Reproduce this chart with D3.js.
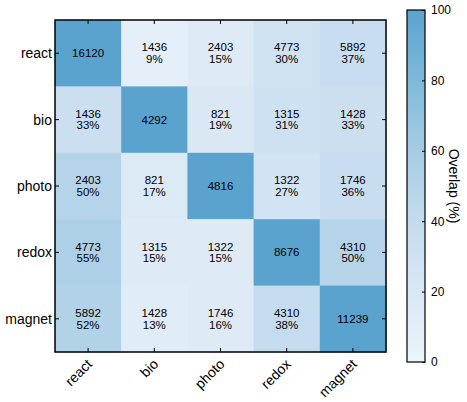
<!DOCTYPE html>
<html>
<head>
<meta charset="utf-8">
<script src="https://cdn.jsdelivr.net/npm/d3@7"></script>
<style>
  body { margin: 0; background: #fff; }
  svg text { font-family: "Liberation Sans", Arial, sans-serif; fill: #000; }
</style>
</head>
<body>
<div id="chart"></div>
<script>
// categories (rows top to bottom, columns left to right)
const categories = ["react", "bio", "photo", "redox", "magnet"];

// overlap counts, one row per category
const rowReact  = [16120, 1436, 2403, 4773, 5892];
const rowBio    = [1436, 4292, 821, 1315, 1428];
const rowPhoto  = [2403, 821, 4816, 1322, 1746];
const rowRedox  = [4773, 1315, 1322, 8676, 4310];
const rowMagnet = [5892, 1428, 1746, 4310, 11239];

const colorbarTicks = [0, 20, 40, 60, 80, 100];

const rows = [rowReact, rowBio, rowPhoto, rowRedox, rowMagnet];

// flatten into cells, percent is relative to the row's diagonal
let cells = [];
rows.forEach((r, i) => {
    r.forEach((v, j) => {
        cells.push({row: categories[i], col: categories[j], value: v,
                    pct: 100 * v / r[i], diag: i === j});
    });
});

const width = 467, height = 402;
const plot = {left: 55, top: 20, right: 386, bottom: 352};

const svg = d3.select("#chart").append("svg")
    .attr("width", width)
    .attr("height", height);

const x = d3.scaleBand().domain(categories).range([plot.left, plot.right]);
const y = d3.scaleBand().domain(categories).range([plot.top, plot.bottom]);

const color = d3.scaleSequential(t => d3.interpolateBlues(0.05 + t * 0.5))
    .domain([0, 100]);

// heatmap cells
svg.append("g").selectAll("rect")
    .data(cells)
    .enter()
    .append("rect")
    .attr("x", d => x(d.col))
    .attr("y", d => y(d.row))
    .attr("width", x.bandwidth() + 0.5)
    .attr("height", y.bandwidth() + 0.5)
    .attr("fill", d => color(d.pct));

// cell labels
let labels = svg.append("g").selectAll("text")
    .data(cells)
    .enter()
    .append("text")
    .attr("text-anchor", "middle")
    .style("font-size", "11.5px")
    .attr("x", d => x(d.col) + x.bandwidth() / 2)
    .attr("y", d => y(d.row) + y.bandwidth() / 2);

labels.filter(d => d.diag)
    .attr("dy", "0.35em")
    .text(d => d.value);

labels.filter(d => !d.diag).each(function(d) {
    let t = d3.select(this);
    t.append("tspan").attr("x", x(d.col) + x.bandwidth() / 2).attr("dy", "-0.15em").text(d.value);
    t.append("tspan").attr("x", x(d.col) + x.bandwidth() / 2).attr("dy", "1.0em").text(Math.round(d.pct) + "%");
});

// axes with inward ticks on all four sides
const tickLen = 4;
svg.append("g")
    .attr("transform", `translate(0,${plot.bottom})`)
    .call(d3.axisBottom(x).tickSize(-tickLen).tickFormat(""))
    .call(g => g.select(".domain").remove());
svg.append("g")
    .attr("transform", `translate(0,${plot.top})`)
    .call(d3.axisTop(x).tickSize(-tickLen).tickFormat(""))
    .call(g => g.select(".domain").remove());
svg.append("g")
    .attr("transform", `translate(${plot.left},0)`)
    .call(d3.axisLeft(y).tickSize(-tickLen).tickFormat(""))
    .call(g => g.select(".domain").remove());
svg.append("g")
    .attr("transform", `translate(${plot.right},0)`)
    .call(d3.axisRight(y).tickSize(-tickLen).tickFormat(""))
    .call(g => g.select(".domain").remove());

svg.selectAll(".tick line").attr("stroke", "#000").attr("stroke-width", 1);

// frame
svg.append("rect")
    .attr("x", plot.left).attr("y", plot.top)
    .attr("width", plot.right - plot.left)
    .attr("height", plot.bottom - plot.top)
    .attr("fill", "none")
    .attr("stroke", "#000")
    .attr("stroke-width", 1.5);

// y labels
svg.append("g").selectAll("text")
    .data(categories)
    .enter()
    .append("text")
    .attr("x", plot.left - 3)
    .attr("y", d => y(d) + y.bandwidth() / 2)
    .attr("dy", "0.35em")
    .attr("text-anchor", "end")
    .style("font-size", "14px")
    .text(d => d);

// x labels rotated
svg.append("g").selectAll("text")
    .data(categories)
    .enter()
    .append("text")
    .attr("transform", d => `translate(${x(d) + x.bandwidth() / 2 - 2},${plot.bottom + 6}) rotate(-45)`)
    .attr("text-anchor", "end")
    .attr("dy", "0.7em")
    .style("font-size", "14px")
    .text(d => d);

// colorbar
const cb = {left: 407, right: 425, top: 10, bottom: 362};
const cbScale = d3.scaleLinear().domain([0, 100]).range([cb.bottom, cb.top]);

const grad = svg.append("defs").append("linearGradient")
    .attr("id", "cbgrad")
    .attr("x1", 0).attr("y1", 1).attr("x2", 0).attr("y2", 0);
d3.range(0, 101, 5).forEach(v => {
    grad.append("stop").attr("offset", v / 100).attr("stop-color", color(v));
});

svg.append("rect")
    .attr("x", cb.left).attr("y", cb.top)
    .attr("width", cb.right - cb.left)
    .attr("height", cb.bottom - cb.top)
    .attr("fill", "url(#cbgrad)")
    .attr("stroke", "#000")
    .attr("stroke-width", 1.2);

let cbAxis = svg.append("g")
    .attr("transform", `translate(${cb.right},0)`)
    .call(d3.axisRight(cbScale).tickValues(colorbarTicks).tickSize(-3).tickPadding(6))
    .call(g => g.select(".domain").remove());
cbAxis.selectAll("text")
    .style("font-size", "12px")
    .style("font-family", "Liberation Sans, Arial, sans-serif");
cbAxis.selectAll("line").attr("stroke", "#000");

svg.append("text")
    .attr("transform", `translate(${449},${(cb.top + cb.bottom) / 2}) rotate(90)`)
    .attr("text-anchor", "middle")
    .style("font-size", "14px")
    .text("Overlap (%)");
</script>
</body>
</html>
